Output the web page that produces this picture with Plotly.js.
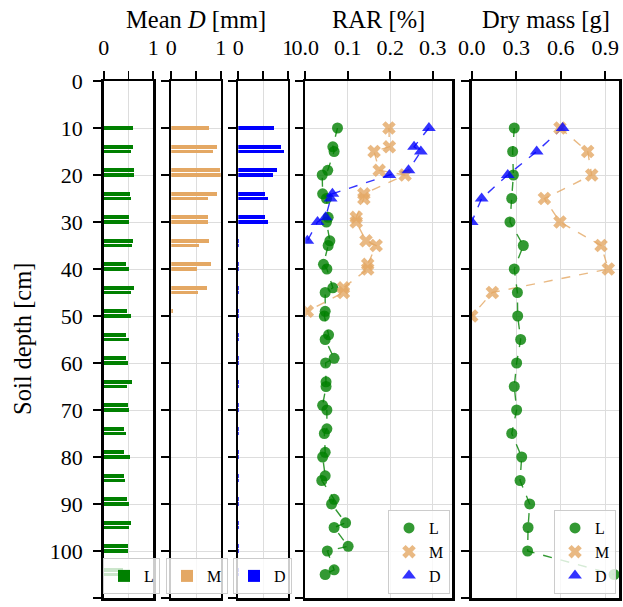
<!DOCTYPE html>
<html>
<head>
<meta charset="utf-8">
<script src="https://cdn.plot.ly/plotly-3.0.1.min.js"></script>
<style>html,body{margin:0;padding:0;background:#fff;}#chart{width:623px;height:607px;}</style>
</head>
<body>
<div id="chart"></div>
<script>
// ---- data ----
const barDepths = [10,14,15,19,20,24,25,29,30,34,35,39,40,44,45,49,50,54,55,59,60,64,65,69,70,74,75,79,80,84,85,89,90,94,95,99,100,104,105];
const meanD_L = [0.59,0.59,0.55,0.61,0.61,0.53,0.55,0.51,0.51,0.59,0.57,0.45,0.51,0.61,0.55,0.47,0.55,0.45,0.51,0.45,0.49,0.57,0.47,0.49,0.51,0.41,0.45,0.41,0.53,0.41,0.43,0.47,0.51,0.55,0.51,0.49,0.49,0.39,0.45];
const meanD_M = [0.76,0.92,0.84,0.98,1.01,0.92,0.74,0.74,0.74,0.76,0.56,0.80,0.52,0.72,0.54,0.03,0,0,0,0,0,0,0,0,0,0,0,0,0,0,0,0,0,0,0,0,0,0,0];
const meanD_D = [0.72,0.865,0.925,0.785,0.70,0.54,0.60,0.54,0.60,0.015,0.015,0.015,0.015,0.015,0.015,0.015,0.015,0.015,0.015,0.015,0.015,0.015,0.015,0.015,0.015,0.015,0.015,0.015,0.015,0.015,0.015,0.015,0.015,0.015,0.015,0.015,0.015,0.015,0.015];

const rarDepthsL = barDepths;
const rar_L = [0.076,0.065,0.068,0.053,0.040,0.041,0.050,0.054,0.050,0.058,0.054,0.043,0.051,0.065,0.047,0.047,0.045,0.055,0.047,0.068,0.048,0.049,0.049,0.041,0.051,0.051,0.045,0.047,0.041,0.047,0.039,0.068,0.062,0.095,0.068,0.101,0.052,0.068,0.047];
const rarDepthsM = [10,14,15,19,20,24,25,29,30,34,35,39,40,44,45,49];
const rar_M = [0.197,0.198,0.162,0.174,0.235,0.138,0.138,0.120,0.120,0.143,0.167,0.147,0.147,0.090,0.090,0.005];
const rarDepthsD = [10,14,15,19,20,24,25,29,30,34];
const rar_D = [0.291,0.256,0.272,0.243,0.198,0.064,0.060,0.048,0.029,0.005];

const dmDepthsL = [10,15,20,25,30,35,40,45,50,55,60,65,70,75,80,85,90,95,100,105];
const dm_L = [0.287,0.276,0.281,0.270,0.258,0.348,0.287,0.308,0.310,0.330,0.303,0.287,0.303,0.270,0.337,0.326,0.391,0.380,0.377,0.96];
const dmDepthsM = [10,15,20,25,30,35,40,45,50];
const dm_M = [0.595,0.782,0.809,0.490,0.595,0.872,0.921,0.139,0.0];
const dmDepthsD = [10,15,20,25,30];
const dm_D = [0.613,0.438,0.243,0.067,0.0];

const yTicks = [0,10,20,30,40,50,60,70,80,90,100,110];

// ---- styles ----
const FONT = '"Liberation Serif", "Times New Roman", serif';
const cL = 'rgb(0,128,0)', cM = 'rgb(228,168,100)', cD = 'rgb(0,0,255)';
const aL = 'rgba(0,128,0,0.8)', aM = 'rgba(228,168,100,0.8)', aD = 'rgba(0,0,255,0.8)';

function bar(x, color, name, xa, ya, lg) {
  return {type:'bar', orientation:'h', y:barDepths, x:x, width:0.8, name:name,
    marker:{color:color, line:{width:0}}, xaxis:xa, yaxis:ya, legend:lg, showlegend:true, hoverinfo:'skip'};
}
function line(y, x, color, xa, ya) {
  return {type:'scatter', mode:'lines', x:x, y:y, xaxis:xa, yaxis:ya, showlegend:false,
    line:{color:color, width:1.4, dash:'dash'}, hoverinfo:'skip'};
}
function pts(y, x, color, sym, size, name, xa, ya, lg) {
  return {type:'scatter', mode:'markers', x:x, y:y, xaxis:xa, yaxis:ya, name:name, legend:lg,
    marker:{color:color, symbol:sym, size:size, line:{width:0}}, hoverinfo:'skip'};
}

const traces = [
  bar(meanD_L, cL, 'L', 'x', 'y', 'legend'),
  bar(meanD_M, cM, 'M', 'x2', 'y2', 'legend2'),
  bar(meanD_D, cD, 'D', 'x3', 'y3', 'legend3'),
  line(rarDepthsL, rar_L, aL, 'x4', 'y4'),
  line(rarDepthsM, rar_M, aM, 'x4', 'y4'),
  line(rarDepthsD, rar_D, aD, 'x4', 'y4'),
  pts(rarDepthsL, rar_L, aL, 'circle', 11, 'L', 'x4', 'y4', 'legend4'),
  pts(rarDepthsM, rar_M, aM, 'x', 12, 'M', 'x4', 'y4', 'legend4'),
  pts(rarDepthsD, rar_D, aD, 'triangle-up', 12, 'D', 'x4', 'y4', 'legend4'),
  line(dmDepthsL, dm_L, aL, 'x5', 'y5'),
  line(dmDepthsM, dm_M, aM, 'x5', 'y5'),
  line(dmDepthsD, dm_D, aD, 'x5', 'y5'),
  pts(dmDepthsL, dm_L, aL, 'circle', 11, 'L', 'x5', 'y5', 'legend5'),
  pts(dmDepthsM, dm_M, aM, 'x', 12, 'M', 'x5', 'y5', 'legend5'),
  pts(dmDepthsD, dm_D, aD, 'triangle-up', 12, 'D', 'x5', 'y5', 'legend5')
];

const W = 623, H = 607;
const yDom = [(H-598)/H, (H-81)/H];
function xax(l, r, range, tv, tt, ya) {
  return {domain:[l/W, r/W], range:range, side:'top', anchor:ya, tickvals:tv, ticktext:tt,
    ticks:'outside', ticklen:8, tickwidth:1.8, tickcolor:'#000', ticklabelstandoff:7,
    showline:true, linewidth:2.5, linecolor:'#000', mirror:true,
    showgrid:true, gridcolor:'#dddddd', gridwidth:1, zeroline:false,
    tickfont:{family:FONT, size:22, color:'#000'}, fixedrange:true};
}
function yax(xa, labels) {
  return {domain:yDom, range:[110,0], anchor:xa, tickvals:yTicks, showticklabels:labels,
    ticks:'outside', ticklen:8, tickwidth:1.8, tickcolor:'#000', ticklabelstandoff:6,
    showline:true, linewidth:2.5, linecolor:'#000', mirror:true,
    showgrid:true, gridcolor:'#dddddd', gridwidth:1, zeroline:false,
    tickfont:{family:FONT, size:22, color:'#000'}, fixedrange:true};
}
function lg(x, xanchor, y) {
  return {x:x, xanchor:xanchor, y:y, yanchor:'bottom', bgcolor:'rgba(255,255,255,0.8)',
    bordercolor:'#cccccc', borderwidth:1, font:{family:FONT, size:16, color:'#000'},
    itemwidth:30, tracegroupgap:0};
}
const legY = (H-594)/H;

const layout = {
  width:W, height:H, margin:{l:0,r:0,t:0,b:0}, paper_bgcolor:'#fff', plot_bgcolor:'#fff',
  showlegend:true, bargap:0,
  font:{family:FONT, size:20, color:'#000'},
  xaxis: xax(103.7,153.2,[0,1],[0,0.5,1],['0','','1'],'y'),
  xaxis2:xax(171.3,220.7,[0,1],[0,0.5,1],['0','','1'],'y2'),
  xaxis3:xax(238.3,287.7,[0,1],[0,0.5,1],['0','','1'],'y3'),
  xaxis4:xax(305.2,452.3,[0,0.346],[0,0.1,0.2,0.3],['0.0','0.1','0.2','0.3'],'y4'),
  xaxis5:xax(471.7,619.3,[0,0.995],[0,0.3,0.6,0.9],['0.0','0.3','0.6','0.9'],'y5'),
  yaxis: yax('x', true),
  yaxis2:Object.assign(yax('x2', false), {matches:'y'}),
  yaxis3:Object.assign(yax('x3', false), {matches:'y'}),
  yaxis4:Object.assign(yax('x4', false), {matches:'y'}),
  yaxis5:Object.assign(yax('x5', false), {matches:'y'}),
  legend: lg(103/W,'left',legY),
  legend2:lg(166/W,'left',legY),
  legend3:lg(233/W,'left',legY),
  legend4:lg(450/W,'right',legY),
  legend5:lg(616/W,'right',legY),
  annotations:[
    {text:'Mean <i>D</i> [mm]', x:196/W, y:(H-20)/H, xref:'paper', yref:'paper', xanchor:'center', yanchor:'middle', showarrow:false, font:{family:FONT,size:24.5,color:'#000'}},
    {text:'RAR [%]', x:378.7/W, y:(H-20)/H, xref:'paper', yref:'paper', xanchor:'center', yanchor:'middle', showarrow:false, font:{family:FONT,size:24.5,color:'#000'}},
    {text:'Dry mass [g]', x:545.5/W, y:(H-20)/H, xref:'paper', yref:'paper', xanchor:'center', yanchor:'middle', showarrow:false, font:{family:FONT,size:24.5,color:'#000'}},
    {text:'Soil depth [cm]', x:22/W, y:(H-339)/H, xref:'paper', yref:'paper', xanchor:'center', yanchor:'middle', textangle:-90, showarrow:false, font:{family:FONT,size:24.5,color:'#000'}}
  ]
};

Plotly.newPlot('chart', traces, layout, {staticPlot:true, displayModeBar:false});
</script>
</body>
</html>
